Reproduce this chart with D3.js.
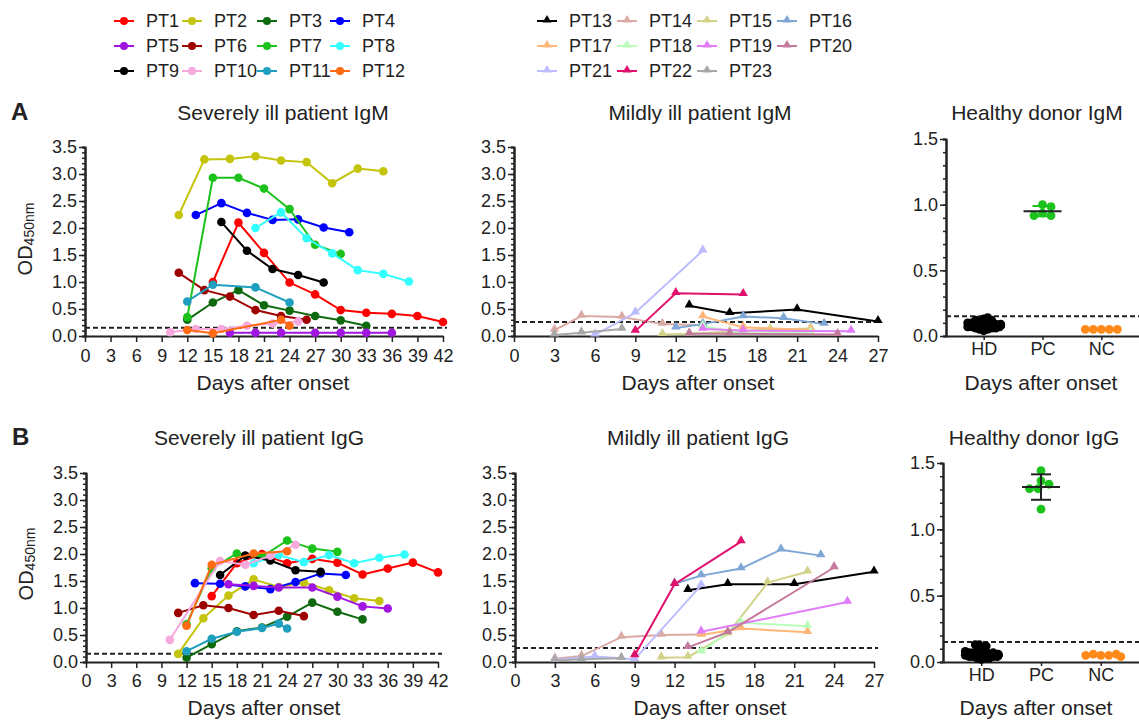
<!DOCTYPE html>
<html>
<head>
<meta charset="utf-8">
<title>IgM / IgG OD450</title>
<script src="https://d3js.org/d3.v7.min.js"></script>
<style>
  body { margin: 0; background: #fff; }
  svg text { font-family: Arial, "Liberation Sans", Helvetica, sans-serif; fill: #222; }
</style>
</head>
<body>
<svg id="chart" width="1139" height="720"></svg>
<script>
// ---- data ----
var severeIds = ["PT1","PT2","PT3","PT4","PT5","PT6","PT7","PT8","PT9","PT10","PT11","PT12"];
var severeColors = ["#ff0000","#c4c40c","#0f6a0f","#0000ff","#a015e0","#9e0000","#1cc21c","#33ffff","#000000","#f7a8dc","#1f9fbf","#ff6a13"];
var mildIds = ["PT13","PT14","PT15","PT16","PT17","PT18","PT19","PT20","PT21","PT22","PT23"];
var mildColors = ["#000000","#dbaaa4","#d2d28a","#7fa7d6","#ffb679","#b9ffb9","#e07df6","#c47a9c","#bcbcff","#e0106d","#a8a8a8"];

var severeDayTicks = [0,3,6,9,12,15,18,21,24,27,30,33,36,39,42];
var mildDayTicks = [0,3,6,9,12,15,18,21,24,27];
var odTicks = [0,0.5,1.0,1.5,2.0,2.5,3.0,3.5];
var healthyTicks = [0,0.5,1.0,1.5];
var groups = ["HD","PC","NC"];

// [day, OD450] per patient, same order as the ids
var severeIgM = [
  [[15,1.0],[18,2.1],[21,1.54],[24,0.99],[27,0.77],[30,0.48],[33,0.43],[36,0.41],[39,0.37],[42,0.26]],
  [[11,2.24],[14,3.27],[17,3.28],[20,3.33],[23,3.25],[26,3.22],[29,2.83],[32,3.1],[35,3.05]],
  [[12,0.3],[15,0.62],[18,0.85],[21,0.57],[24,0.47],[27,0.37],[30,0.29],[33,0.19]],
  [[13,2.24],[16,2.46],[19,2.28],[22,2.15],[25,2.16],[28,2.01],[31,1.92]],
  [[17,0.06],[20,0.06],[23,0.06],[27,0.06],[30,0.06],[33,0.06],[36,0.06]],
  [[11,1.17],[14,0.85],[17,0.73],[20,0.48],[23,0.37],[26,0.3]],
  [[12,0.35],[15,2.93],[18,2.93],[21,2.73],[24,2.35],[27,1.69],[30,1.52]],
  [[20,2.0],[23,2.29],[26,1.81],[29,1.53],[32,1.22],[35,1.15],[38,1.01]],
  [[16,2.11],[19,1.58],[22,1.24],[25,1.13],[28,0.99]],
  [[10,0.07],[13,0.13],[16,0.13],[19,0.19],[22,0.23],[25,0.27]],
  [[12,0.64],[15,0.95],[20,0.9],[24,0.62]],
  [[12,0.11],[15,0.05],[23,0.3],[24,0.19]]
];
var severeIgG = [
  [[15,1.22],[18,1.83],[21,2.0],[24,1.83],[27,1.91],[30,1.84],[33,1.62],[36,1.73],[39,1.84],[42,1.66]],
  [[11,0.15],[14,0.81],[17,1.23],[20,1.53],[23,1.39],[26,1.47],[29,1.33],[32,1.18],[35,1.13]],
  [[12,0.08],[15,0.33],[18,0.57],[21,0.64],[24,0.84],[27,1.1],[30,0.93],[33,0.79]],
  [[13,1.46],[16,1.45],[19,1.4],[22,1.35],[25,1.48],[28,1.64],[31,1.61]],
  [[17,1.44],[20,1.41],[23,1.38],[27,1.38],[30,1.21],[33,1.03],[36,0.99]],
  [[11,0.91],[14,1.05],[17,1.0],[20,0.87],[23,0.95],[26,0.85]],
  [[12,0.7],[15,1.73],[18,2.01],[21,1.95],[24,2.25],[27,2.1],[30,2.04]],
  [[20,1.83],[23,1.98],[26,1.85],[29,1.98],[32,1.83],[35,1.93],[38,1.99]],
  [[16,1.61],[19,1.97],[22,1.88],[25,1.7],[28,1.67]],
  [[10,0.41],[16,1.87],[19,1.8],[22,1.97],[25,2.17]],
  [[12,0.2],[15,0.43],[18,0.56],[21,0.63],[23,0.71],[24,0.62]],
  [[12,0.67],[15,1.8],[20,2.01],[24,2.05]]
];
var mildIgM = [
  [[13,0.56],[16,0.42],[21,0.49],[27,0.27]],
  [[3,0.11],[5,0.37],[8,0.35],[11,0.22],[14,0.2]],
  [[11,0.03],[13,0.04],[16,0.08],[19,0.12],[22,0.14]],
  [[12,0.15],[14,0.22],[17,0.36],[20,0.33],[23,0.22]],
  [[14,0.36],[17,0.16],[22,0.11]],
  [[14,0.18],[17,0.05],[22,0.06]],
  [[14,0.13],[17,0.1],[25,0.09]],
  [[13,0.04],[16,0.04],[24,0.03]],
  [[6,0.02],[9,0.43],[14,1.58]],
  [[9,0.09],[12,0.79],[17,0.77]],
  [[3,0.02],[5,0.06],[8,0.13]]
];
var mildIgG = [
  [[13,1.33],[16,1.44],[21,1.44],[27,1.67]],
  [[3,0.06],[5,0.11],[8,0.46],[11,0.5],[14,0.51]],
  [[11,0.08],[13,0.09],[16,0.52],[19,1.47],[22,1.67]],
  [[12,1.45],[14,1.6],[17,1.73],[20,2.08],[23,1.97]],
  [[14,0.5],[17,0.62],[22,0.55]],
  [[14,0.19],[17,0.73],[22,0.66]],
  [[14,0.56],[25,1.11]],
  [[13,0.27],[16,0.55],[24,1.75]],
  [[3,0.04],[6,0.1],[9,0.05],[14,1.42]],
  [[9,0.12],[12,1.44],[17,2.23]],
  [[3,0.03],[5,0.05],[8,0.07]]
];

var hdIgM = [0.04,0.05,0.05,0.06,0.06,0.06,0.07,0.07,0.07,0.07,0.08,0.08,0.08,0.08,0.08,0.09,0.09,0.09,0.09,0.1,0.1,0.1,0.11,0.11,0.12,0.12,0.13,0.14];
var pcIgM = [1.0,0.985,0.935,0.917,0.917];
var ncIgM = [0.05,0.05,0.05,0.05,0.05];
var hdIgG = [0.02,0.03,0.03,0.03,0.04,0.04,0.04,0.04,0.05,0.05,0.05,0.05,0.05,0.06,0.06,0.06,0.06,0.07,0.07,0.07,0.08,0.08,0.09,0.1,0.11,0.12,0.13,0.13];
var pcIgG = [1.442,1.366,1.34,1.306,1.306,1.152];
var ncIgG = [0.05,0.05,0.06,0.06,0.05,0.04];

var cutSevere = 0.155, cutMild = 0.26, cutHealthy = 0.15;

// ---- drawing ----
var svg = d3.select("#chart");
var ink = "#222";

function styleAxis(g) {
  g.select(".domain").attr("stroke", ink).attr("stroke-width", 2);
  g.selectAll(".tick line").attr("stroke", ink).attr("stroke-width", 1.5);
  g.selectAll(".tick text").style("font-size", "18px").attr("fill", ink);
}

function yLabel(x, yc) {
  var t = svg.append("text")
    .attr("transform", "translate(" + x + "," + yc + ") rotate(-90)")
    .attr("text-anchor", "middle");
  t.append("tspan").style("font-size", "20px").text("OD");
  t.append("tspan").style("font-size", "14px").attr("dy", 2).text("450nm");
}

function panelText(x, y, txt, size) {
  svg.append("text").attr("x", x).attr("y", y).attr("text-anchor", "middle")
    .style("font-size", size + "px").text(txt);
}

function yAxis(y, x0, ticks, maxV) {
  var minor = d3.range(0, maxV + 0.001, 0.1);
  svg.append("g").attr("transform", "translate(" + x0 + ",0)")
    .call(d3.axisLeft(y).tickValues(minor).tickSize(3).tickFormat(""))
    .call(styleAxis);
  svg.append("g").attr("transform", "translate(" + x0 + ",0)")
    .call(d3.axisLeft(y).tickValues(ticks).tickSize(6).tickSizeOuter(0).tickPadding(2).tickFormat(d3.format(".1f")))
    .call(styleAxis);
}

function linePanel(p) {
  var x = d3.scaleLinear().domain([0, p.maxDay]).range(p.xr);
  var y = d3.scaleLinear().domain([0, 3.5]).range(p.yr);

  yAxis(y, p.xr[0], odTicks, 3.5);
  svg.append("g").attr("transform", "translate(0," + p.yr[0] + ")")
    .call(d3.axisBottom(x).tickValues(p.ticks).tickSize(6).tickSizeOuter(0).tickPadding(p.pad))
    .call(styleAxis);

  svg.append("line")
    .attr("x1", x(0)).attr("x2", x(p.maxDay) + 4)
    .attr("y1", y(p.cut)).attr("y2", y(p.cut))
    .attr("stroke", ink).attr("stroke-width", 2).attr("stroke-dasharray", "5,3");

  var line = d3.line().x(function(d) { return x(d[0]); }).y(function(d) { return y(d[1]); });
  var sym = d3.symbol().type(d3.symbolTriangle).size(38);

  p.series.forEach(function(s, i) {
    var col = p.colors[i];
    svg.append("path").datum(s).attr("d", line)
      .attr("fill", "none").attr("stroke", col).attr("stroke-width", 2);
    var pts = svg.append("g").selectAll("g").data(s).join("g");
    if (p.tri) {
      pts.append("path").attr("d", sym).attr("fill", col)
        .attr("transform", function(d) { return "translate(" + x(d[0]) + "," + (y(d[1]) - 1) + ")"; });
    } else {
      pts.append("circle").attr("r", 4.3).attr("fill", col)
        .attr("cx", function(d) { return x(d[0]); })
        .attr("cy", function(d) { return y(d[1]); });
    }
  });
}

// simple deterministic beeswarm: smallest horizontal offset without collision
function swarm(values, y, dist, maxOff) {
  var placed = [];
  return values.map(function(v) {
    var yy = y(v), off = 0;
    for (var k = 0; k < 400; k++) {
      var c = k === 0 ? 0 : (k % 2 ? 1 : -1) * Math.ceil(k / 2) * 0.5;
      if (Math.abs(c) > maxOff) { c = (k % 2 ? 1 : -1) * maxOff; off = c; break; }
      var ok = placed.every(function(q) { return (q.x - c) * (q.x - c) + (q.y - yy) * (q.y - yy) >= dist * dist; });
      if (ok) { off = c; break; }
    }
    placed.push({x: off, y: yy});
    return off;
  });
}

function dotPanel(p) {
  var x = d3.scalePoint().domain(groups).range(p.xr).padding(0.64);
  var y = d3.scaleLinear().domain([0, 1.5]).range(p.yr);

  yAxis(y, p.xr[0], healthyTicks, 1.5);
  svg.append("g").attr("transform", "translate(0," + p.yr[0] + ")")
    .call(d3.axisBottom(x).tickSize(4).tickSizeOuter(0).tickPadding(2))
    .call(styleAxis);

  svg.append("line")
    .attr("x1", p.xr[0]).attr("x2", p.xr[1])
    .attr("y1", y(cutHealthy)).attr("y2", y(cutHealthy))
    .attr("stroke", ink).attr("stroke-width", 2).attr("stroke-dasharray", "5,3");

  var sets = [
    {g: "HD", v: p.hd, col: "#000000", dist: 3.8, max: 17},
    {g: "PC", v: p.pc, col: "#1cc21c", dist: 8.4, max: 20},
    {g: "NC", v: p.nc, col: "#ff8a1a", dist: 7.6, max: 20}
  ];
  sets.forEach(function(s) {
    var offs = swarm(s.v, y, s.dist, s.max);
    svg.append("g").selectAll("circle").data(s.v).join("circle")
      .attr("r", 4.4).attr("fill", s.col)
      .attr("cx", function(d, i) { return x(s.g) + offs[i]; })
      .attr("cy", function(d) { return y(d); });
  });

  // mean and SD on the positive control
  var m = d3.mean(p.pc), sd = d3.deviation(p.pc), cx = x("PC");
  var eb = svg.append("g").attr("stroke", p.barColor).attr("stroke-width", 2);
  eb.append("line").attr("x1", cx).attr("x2", cx).attr("y1", y(m + sd)).attr("y2", y(m - sd));
  eb.append("line").attr("x1", cx - 10).attr("x2", cx + 10).attr("y1", y(m + sd)).attr("y2", y(m + sd));
  eb.append("line").attr("x1", cx - 10).attr("x2", cx + 10).attr("y1", y(m - sd)).attr("y2", y(m - sd));
  svg.append("line").attr("x1", cx - 19).attr("x2", cx + 19).attr("y1", y(m)).attr("y2", y(m))
    .attr("stroke", ink).attr("stroke-width", 2);
}

// legends
var legL = [114, 182, 257, 330], legR = [537, 617, 697, 777], legRows = [21, 46, 71];
function legend(ids, colors, cols, tri) {
  var sym = d3.symbol().type(d3.symbolTriangle).size(34);
  ids.forEach(function(id, i) {
    var cx = cols[i % 4], cy = legRows[Math.floor(i / 4)];
    svg.append("line").attr("x1", cx).attr("x2", cx + 20).attr("y1", cy).attr("y2", cy)
      .attr("stroke", colors[i]).attr("stroke-width", 2);
    if (tri) {
      svg.append("path").attr("d", sym).attr("fill", colors[i])
        .attr("transform", "translate(" + (cx + 10) + "," + (cy - 1) + ")");
    } else {
      svg.append("circle").attr("cx", cx + 10).attr("cy", cy).attr("r", 4).attr("fill", colors[i]);
    }
    svg.append("text").attr("x", cx + 32).attr("y", cy).attr("dy", "0.35em")
      .style("font-size", "18px").text(id);
  });
}
legend(severeIds, severeColors, legL, false);
legend(mildIds, mildColors, legR, true);

// panel letters
svg.append("text").attr("x", 11).attr("y", 120).style("font-size", "24px").style("font-weight", "bold").text("A");
svg.append("text").attr("x", 12).attr("y", 445).style("font-size", "24px").style("font-weight", "bold").text("B");

// row A
linePanel({series: severeIgM, colors: severeColors, tri: false, maxDay: 42, ticks: severeDayTicks,
  xr: [85, 443], yr: [336, 147], cut: cutSevere, pad: 7});
linePanel({series: mildIgM, colors: mildColors, tri: true, maxDay: 27, ticks: mildDayTicks,
  xr: [514, 878], yr: [336, 147], cut: cutMild, pad: 7});
dotPanel({hd: hdIgM, pc: pcIgM, nc: ncIgM, xr: [946, 1139], yr: [336, 139], barColor: "#1cc21c"});

// row B
linePanel({series: severeIgG, colors: severeColors, tri: false, maxDay: 42, ticks: severeDayTicks,
  xr: [86, 438], yr: [662, 473], cut: cutSevere, pad: 6});
linePanel({series: mildIgG, colors: mildColors, tri: true, maxDay: 27, ticks: mildDayTicks,
  xr: [515, 874], yr: [662, 473], cut: cutMild, pad: 6});
dotPanel({hd: hdIgG, pc: pcIgG, nc: ncIgG, xr: [943, 1139], yr: [662, 463], barColor: ink});

// titles and axis labels
panelText(283, 120, "Severely ill patient IgM", 21);
panelText(700, 120, "Mildly ill patient IgM", 21);
panelText(1037, 120, "Healthy donor IgM", 21);
panelText(259, 445, "Severely ill patient IgG", 21);
panelText(698, 445, "Mildly ill patient IgG", 21);
panelText(1034, 445, "Healthy donor IgG", 21);

panelText(273, 390, "Days after onset", 21);
panelText(698, 390, "Days after onset", 21);
panelText(1041, 390, "Days after onset", 21);
panelText(264, 715, "Days after onset", 21);
panelText(710, 715, "Days after onset", 21);
panelText(1036, 715, "Days after onset", 21);

yLabel(32, 239);
yLabel(33, 564);
</script>
</body>
</html>
